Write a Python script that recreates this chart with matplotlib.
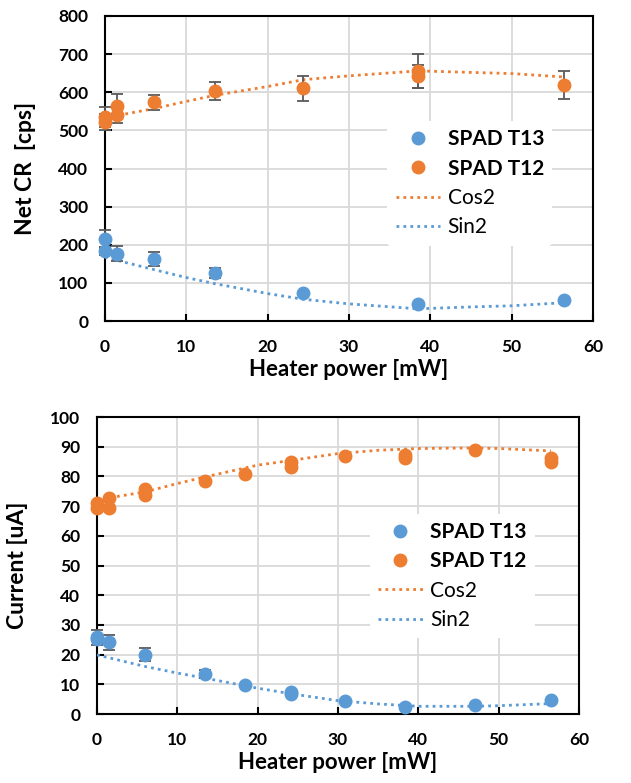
import numpy as np
import matplotlib.pyplot as plt

plt.rcParams['font.family'] = ['Lato', 'DejaVu Sans']

BLUE = '#5B9BD5'
ORANGE = '#ED7D31'

# ---- top panel: Net CR ----
t12_x = [0, 0, 1.5, 1.5, 6, 13.5, 24.4, 38.5, 38.5, 56.4]
t12_y = [535, 522, 565, 540, 574, 603, 610, 655, 642, 619]
t12_err = [25, 20, 30, 20, 20, 23, 32, 45, 30, 36]

t13_x = [0, 0, 1.5, 6, 13.5, 24.4, 38.5, 56.4]
t13_y = [215, 184, 177, 163, 126, 74, 45, 55]
t13_err = [23, 10, 19, 18, 12, 0, 0, 0]

cos_top_x = [0, 1.5, 6, 10, 13.5, 20, 24.4, 30, 38.5, 45, 50, 56.4]
cos_top_y = [531, 539, 557, 576, 592, 615, 633, 643, 656, 652, 649, 640]
sin_top_x = [0, 1.5, 6, 10, 13.5, 20, 24.4, 30, 38.5, 45, 50, 56.4]
sin_top_y = [168, 159, 135, 114, 98, 72, 57, 45, 32, 37, 40, 48]

# ---- bottom panel: Current ----
c12_x = [0, 0, 1.5, 1.5, 6, 6, 13.4, 18.4, 24.2, 24.2, 30.9, 38.4, 38.4, 47, 56.5, 56.5]
c12_y = [70.9, 69.2, 72.8, 69.5, 75.9, 73.9, 78.5, 80.9, 84.9, 83.2, 86.8, 87.1, 86.3, 88.8, 86.2, 84.9]

c13_x = [0, 0, 1.5, 6, 13.4, 18.4, 24.2, 24.2, 30.9, 38.4, 47, 56.5]
c13_y = [25.9, 25.4, 24.2, 19.9, 13.5, 9.9, 7.4, 6.9, 4.3, 2.5, 2.9, 4.6]
c13_err = [2.5, 0, 2.5, 2.2, 1.3, 0, 0, 0, 0, 0, 0, 0]

cos_bot_x = [0, 1.5, 6, 10, 13.4, 20, 24.2, 30, 35, 40, 47, 50, 56.5]
cos_bot_y = [71.4, 72.8, 74.8, 77.6, 79.8, 83.8, 85.4, 87.7, 88.8, 89.4, 89.6, 89.4, 88.6]
sin_bot_x = [0, 6, 10, 13.4, 20, 24.2, 30, 35, 40, 47, 50, 56.5]
sin_bot_y = [19.9, 16.0, 13.8, 12.1, 8.7, 6.8, 4.5, 3.4, 2.6, 2.6, 2.8, 3.5]

DOT = (0, (1, 1.5))


def style_axes(ax, ymax, ystep):
    ax.set_xlim(0, 60)
    ax.set_ylim(0, ymax)
    ax.set_xticks(np.arange(0, 61, 10))
    ax.set_yticks(np.arange(0, ymax + 1, ystep))
    ax.grid(True, color='#d9d9d9', linewidth=1.3, zorder=0)
    ax.set_axisbelow(True)
    for s in ax.spines.values():
        s.set_linewidth(1.5)
        s.set_color('black')
    ax.tick_params(direction='in', length=5, width=1.5, labelsize=12.5)
    ax.tick_params(axis='y', pad=12)
    ax.tick_params(axis='x', pad=13)
    for lab in ax.get_xticklabels() + ax.get_yticklabels():
        lab.set_fontweight('bold')
    ax.set_xlabel('Heater power [mW]', fontsize=16, fontweight='bold', labelpad=3)


def draw(ax, ox, oy, oerr, bx, by, berr, cx, cy, sx, sy, legend_pos):
    ax.plot(cx, cy, linestyle=DOT, color=ORANGE, linewidth=2, zorder=3)
    ax.plot(sx, sy, linestyle=DOT, color=BLUE, linewidth=2, zorder=3)
    if berr is not None:
        ax.errorbar(bx, by, yerr=berr, fmt='none', ecolor='#595959', elinewidth=1.3,
                    capsize=4, capthick=1.3, zorder=4, clip_on=False)
    if oerr is not None:
        ax.errorbar(ox, oy, yerr=oerr, fmt='none', ecolor='#595959', elinewidth=1.3,
                    capsize=4, capthick=1.3, zorder=4, clip_on=False)
    h1, = ax.plot(bx, by, 'o', color=BLUE, markersize=9, zorder=5, clip_on=False)
    h2, = ax.plot(ox, oy, 'o', color=ORANGE, markersize=9, zorder=5, clip_on=False)
    l1, = ax.plot([], [], linestyle=DOT, color=ORANGE, linewidth=2)
    l2, = ax.plot([], [], linestyle=DOT, color=BLUE, linewidth=2)
    leg = ax.legend([h1, h2, l1, l2], ['SPAD T13', 'SPAD T12', 'Cos2', 'Sin2'],
                    loc='upper left', bbox_to_anchor=legend_pos, frameon=True,
                    framealpha=1, edgecolor='white', fontsize=15,
                    handlelength=2.15, labelspacing=0.45, borderpad=0.4,
                    handletextpad=0.35, borderaxespad=0.5)
    leg.get_frame().set_linewidth(0)
    leg.set_zorder(6)
    for i, txt in enumerate(leg.get_texts()):
        if i < 2:
            txt.set_fontweight('bold')


fig = plt.figure(figsize=(6.31, 7.83), dpi=100)

ax1 = fig.add_axes([0.1664, 0.590, 0.7734, 0.3896])
draw(ax1, t12_x, t12_y, t12_err, t13_x, t13_y, t13_err,
     cos_top_x, cos_top_y, sin_top_x, sin_top_y, (0.557, 0.69))
style_axes(ax1, 800, 100)
ax1.set_ylabel('Net CR  [cps]', fontsize=16.5, fontweight='bold', labelpad=16)

ax2 = fig.add_axes([0.1537, 0.0881, 0.7638, 0.3793])
draw(ax2, c12_x, c12_y, None, c13_x, c13_y, c13_err,
     cos_bot_x, cos_bot_y, sin_bot_x, sin_bot_y, (0.544, 0.71))
style_axes(ax2, 100, 10)
ax2.set_ylabel('Current [uA]', fontsize=16.5, fontweight='bold', labelpad=16)

fig.savefig('out.png', dpi=100)
